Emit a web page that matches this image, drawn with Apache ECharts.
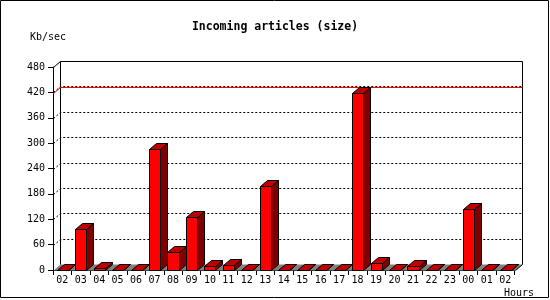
<!DOCTYPE html>
<html>
<head>
<meta charset="utf-8">
<script src="https://cdn.jsdelivr.net/npm/echarts@6/dist/echarts.min.js"></script>
<style>
html,body{margin:0;padding:0;background:#fff;}
#chart{width:550px;height:300px;}
</style>
</head>
<body>
<div id="chart"></div>
<script>
const titleText = 'Incoming articles (size)';
const yUnit = 'Kb/sec';
const xUnit = 'Hours';
const categories = ['02','03','04','05','06','07','08','09','10','11','12','13','14','15','16','17','18','19','20','21','22','23','00','01','02'];
const values = [0, 97, 4, 0, 0, 286, 42, 125, 9, 12, 0, 198, 0, 0, 0, 0, 418, 16, 0, 9, 0, 0, 144, 0, 0];
const yMin = 0, yMax = 480, yStep = 60;
const gridTicks = [60, 120, 180, 240, 300, 360, 420];
const maxValue = Math.max.apply(null, values);

const DX = 7, DY = -6;
const FONT = 'DejaVu Sans Mono';
const s = v => Math.round(v) + 0.5;

function frameBounds(api) {
  const bw = api.size([1, 0])[0];
  const L = api.coord([0, yMin])[0] - bw / 2;
  const R = api.coord([categories.length - 1, yMin])[0] + bw / 2;
  const yB = api.coord([0, yMin])[1];
  const yT = api.coord([0, yMax])[1];
  return { bw, L: s(L), R: s(R), yB: s(yB), yT: s(yT) };
}

function renderFrame(params, api) {
  const b = frameBounds(api);
  return {
    type: 'group',
    children: [
      { type: 'polygon', shape: { points: [[b.L, b.yB], [b.R, b.yB], [b.R + DX, b.yB + DY], [b.L + DX, b.yB + DY]] },
        style: { fill: '#808080', stroke: null } },
      { type: 'line', shape: { x1: b.L + DX, y1: b.yT + DY, x2: b.L + DX, y2: b.yB + DY },
        style: { stroke: '#000', lineWidth: 1 } },
      { type: 'polyline', shape: { points: [[b.L, b.yT], [b.L + DX, b.yT + DY], [b.R + DX, b.yT + DY], [b.R + DX, b.yB + DY], [b.R, b.yB]] },
        style: { stroke: '#000', lineWidth: 1, fill: null } }
    ]
  };
}

function renderGrid(params, api) {
  const b = frameBounds(api);
  const y = s(api.coord([0, api.value(1)])[1]);
  return {
    type: 'polyline',
    shape: { points: [[b.L, y], [b.L + DX, y + DY], [b.R + DX, y + DY]] },
    style: { stroke: '#000', lineWidth: 1, lineDash: [2, 2], fill: null }
  };
}

function renderMax(params, api) {
  const b = frameBounds(api);
  const y = s(api.coord([0, api.value(1)])[1]);
  return {
    type: 'polyline',
    shape: { points: [[b.L, y], [b.L + DX, y + DY], [b.R + DX, y + DY]] },
    style: { stroke: '#ff0000', lineWidth: 1, fill: null }
  };
}

function renderBar(params, api) {
  const i = api.value(0), v = api.value(1);
  const bw = api.size([1, 0])[0];
  const top = api.coord([i, v]);
  const base = api.coord([i, 0]);
  const w = bw * 0.6;
  const x0 = s(top[0] - w / 2), x1 = s(top[0] + w / 2);
  const yt = s(top[1]), yb = s(base[1]);
  const ls = { stroke: '#000', lineWidth: 1 };
  return {
    type: 'group',
    children: [
      { type: 'polygon', shape: { points: [[x1, yt], [x1 + DX, yt + DY], [x1 + DX, yb + DY], [x1, yb]] },
        style: Object.assign({ fill: '#800000' }, ls) },
      { type: 'polygon', shape: { points: [[x0, yt], [x1, yt], [x1 + DX, yt + DY], [x0 + DX, yt + DY]] },
        style: Object.assign({ fill: '#c00000' }, ls) },
      { type: 'rect', shape: { x: x0, y: yt, width: x1 - x0, height: yb - yt },
        style: Object.assign({ fill: '#ff0000' }, ls) }
    ]
  };
}

const chart = echarts.init(document.getElementById('chart'), null, { renderer: 'canvas' });
chart.setOption({
  animation: false,
  backgroundColor: '#fff',
  title: {
    text: titleText, left: 'center', top: 21, padding: 0,
    textStyle: { fontFamily: FONT, fontWeight: 'bold', fontSize: 11.5, color: '#000' }
  },
  graphic: [
    { type: 'rect', shape: { x: 0.5, y: 0.5, width: 548, height: 297 }, style: { fill: null, stroke: '#000', lineWidth: 1 }, z: 100 },
    { type: 'text', x: 30, y: 37, style: { text: yUnit, font: '10px "DejaVu Sans Mono"', fill: '#000', textVerticalAlign: 'middle' } },
    { type: 'text', x: 504, y: 293, style: { text: xUnit, font: '10px "DejaVu Sans Mono"', fill: '#000', textVerticalAlign: 'middle' } }
  ],
  grid: { left: 53, top: 67, width: 461.5, height: 203 },
  xAxis: {
    type: 'category', data: categories, boundaryGap: true,
    axisLine: { show: true, lineStyle: { color: '#000', width: 1 } },
    axisTick: { show: true, length: 5, interval: 0, lineStyle: { color: '#000' } },
    axisLabel: { interval: 0, margin: 5, color: '#000', fontFamily: FONT, fontSize: 10 },
    splitLine: { show: false }
  },
  yAxis: {
    type: 'value', min: yMin, max: yMax, interval: yStep,
    axisLine: { show: true, lineStyle: { color: '#000', width: 1 } },
    axisTick: { show: true, length: 5, lineStyle: { color: '#000' } },
    axisLabel: { margin: 8, color: '#000', fontFamily: FONT, fontSize: 10 },
    splitLine: { show: false }
  },
  series: [
    { type: 'custom', renderItem: renderFrame, data: [[0, 0]], z: 1, silent: true },
    { type: 'custom', renderItem: renderGrid, data: gridTicks.map(t => [0, t]), z: 2, silent: true },
    { type: 'custom', renderItem: renderMax, data: [[0, maxValue]], z: 3, silent: true },
    { type: 'custom', renderItem: renderBar, data: values.map((v, i) => [i, v]), z: 4 }
  ]
});
</script>
</body>
</html>
